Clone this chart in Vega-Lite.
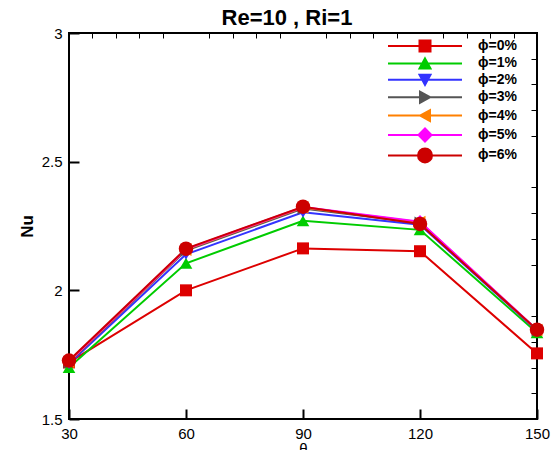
{
  "$schema": "https://vega.github.io/schema/vega-lite/v6.json",
  "width": 468,
  "height": 386,
  "autosize": {"type": "none"},
  "padding": {"left": 69, "top": 33, "right": 19, "bottom": 31},
  "background": "white",
  "title": {"text": "Re=10 , Ri=1", "font": "Liberation Sans", "fontSize": 22, "fontWeight": "bold", "color": "black", "offset": 4, "dy": 8, "dx": -16},
  "config": {
    "view": {"stroke": "black", "strokeWidth": 2},
    "axis": {"grid": false, "domain": false, "labelFont": "Liberation Sans", "labelFontSize": 15, "labelColor": "black", "tickColor": "black", "titleColor": "black", "titleFont": "Liberation Sans"}
  },
  "data": {"values": [
    {"s": "ϕ=0%", "t": 30, "nu": 1.72}, {"s": "ϕ=0%", "t": 60, "nu": 2.0}, {"s": "ϕ=0%", "t": 90, "nu": 2.163}, {"s": "ϕ=0%", "t": 120, "nu": 2.152}, {"s": "ϕ=0%", "t": 150, "nu": 1.755},
    {"s": "ϕ=1%", "t": 30, "nu": 1.70}, {"s": "ϕ=1%", "t": 60, "nu": 2.105}, {"s": "ϕ=1%", "t": 90, "nu": 2.27}, {"s": "ϕ=1%", "t": 120, "nu": 2.235}, {"s": "ϕ=1%", "t": 150, "nu": 1.835},
    {"s": "ϕ=2%", "t": 30, "nu": 1.715}, {"s": "ϕ=2%", "t": 60, "nu": 2.14}, {"s": "ϕ=2%", "t": 90, "nu": 2.303}, {"s": "ϕ=2%", "t": 120, "nu": 2.255}, {"s": "ϕ=2%", "t": 150, "nu": 1.843},
    {"s": "ϕ=3%", "t": 30, "nu": 1.72}, {"s": "ϕ=3%", "t": 60, "nu": 2.155}, {"s": "ϕ=3%", "t": 90, "nu": 2.318}, {"s": "ϕ=3%", "t": 120, "nu": 2.262}, {"s": "ϕ=3%", "t": 150, "nu": 1.845},
    {"s": "ϕ=4%", "t": 30, "nu": 1.722}, {"s": "ϕ=4%", "t": 60, "nu": 2.158}, {"s": "ϕ=4%", "t": 90, "nu": 2.322}, {"s": "ϕ=4%", "t": 120, "nu": 2.265}, {"s": "ϕ=4%", "t": 150, "nu": 1.846},
    {"s": "ϕ=5%", "t": 30, "nu": 1.724}, {"s": "ϕ=5%", "t": 60, "nu": 2.16}, {"s": "ϕ=5%", "t": 90, "nu": 2.324}, {"s": "ϕ=5%", "t": 120, "nu": 2.267}, {"s": "ϕ=5%", "t": 150, "nu": 1.847},
    {"s": "ϕ=6%", "t": 30, "nu": 1.727}, {"s": "ϕ=6%", "t": 60, "nu": 2.162}, {"s": "ϕ=6%", "t": 90, "nu": 2.325}, {"s": "ϕ=6%", "t": 120, "nu": 2.258}, {"s": "ϕ=6%", "t": 150, "nu": 1.847}
  ]},
  "encoding": {
    "x": {"field": "t", "type": "quantitative", "scale": {"domain": [30, 150], "nice": false, "zero": false}, "axis": null},
    "y": {"field": "nu", "type": "quantitative", "scale": {"domain": [1.5, 3], "nice": false, "zero": false}, "axis": null},
    "color": {
      "field": "s", "type": "nominal",
      "scale": {"domain": ["ϕ=0%", "ϕ=1%", "ϕ=2%", "ϕ=3%", "ϕ=4%", "ϕ=5%", "ϕ=6%"], "range": ["#dd0000", "#00cc00", "#3333ff", "#555555", "#ff8000", "#ff00ff", "#cc0000"]},
      "legend": null
    }
  },
  "layer": [
    {
      "mark": {"type": "line", "strokeWidth": 2},
      "encoding": {
        "x": {"field": "t", "type": "quantitative",
          "axis": {"values": [30, 60, 90, 120, 150], "tickSize": -10, "tickWidth": 2, "labelPadding": 17, "labelFlush": false, "labelOverlap": false, "title": "θ", "titleFontSize": 15, "titleFontWeight": "normal", "titlePadding": 0}},
        "y": {"field": "nu", "type": "quantitative",
          "axis": {"values": [1.5, 2, 2.5, 3], "format": "~g", "tickSize": -10, "tickWidth": 2, "labelPadding": 17, "labelFlush": false, "labelOverlap": false, "title": "Nu", "titleFontSize": 17, "titleFontWeight": "bold", "titlePadding": 5}},
        "color": {
          "field": "s", "type": "nominal",
          "legend": {
            "orient": "none", "legendX": 312, "legendY": 6, "title": null, "padding": 0,
            "symbolSize": 4, "labelOffset": 83, "rowPadding": -1.6,
            "labelFont": "Liberation Sans", "labelFontSize": 14, "labelFontWeight": "bold", "labelColor": "black",
            "encode": {"symbols": {"update": {
              "shape": {"signal": "datum.value === 'ϕ=0%' ? 'M0,0H74M31.5,-5.5H42.5V5.5H31.5Z' : datum.value === 'ϕ=1%' ? 'M0,0H74M37,-5L42.5,5H31.5Z' : datum.value === 'ϕ=2%' ? 'M0,0H74M31.5,-5H42.5L37,5Z' : datum.value === 'ϕ=3%' ? 'M0,0H74M42,0L32,-5.5V5.5Z' : datum.value === 'ϕ=4%' ? 'M0,0H74M32,0L42,-5.5V5.5Z' : datum.value === 'ϕ=5%' ? 'M0,0H74M30.5,0L37,-6.5L43.5,0L37,6.5Z' : 'M0,0H74M30,0A7,7 0 1,1 44,0A7,7 0 1,1 30,0Z'"},
              "fill": {"signal": "scale('color', datum.value)"},
              "stroke": {"signal": "scale('color', datum.value)"},
              "strokeWidth": {"value": 2},
              "size": {"value": 4},
              "opacity": {"value": 1},
              "fillOpacity": {"value": 1},
              "strokeOpacity": {"value": 1}
            }}}
          }
        }
      }
    },
    {
      "transform": [{"filter": "datum.s === 'ϕ=0%'"}],
      "mark": {"type": "point", "filled": true, "opacity": 1, "shape": "square", "size": 144},
      "encoding": {
        "x": {"field": "t", "type": "quantitative",
          "axis": {"values": [36, 42, 48, 54, 66, 72, 78, 84, 96, 102, 108, 114, 126, 132, 138, 144], "tickSize": -5, "tickWidth": 1, "labels": false, "title": null}},
        "y": {"field": "nu", "type": "quantitative",
          "axis": {"values": [1.6, 1.7, 1.8, 1.9, 2.1, 2.2, 2.3, 2.4, 2.6, 2.7, 2.8, 2.9], "tickSize": -6, "tickWidth": 1, "labels": false, "title": null}}
      }
    },
    {"transform": [{"filter": "datum.s === 'ϕ=1%'"}], "mark": {"type": "point", "filled": true, "opacity": 1, "shape": "triangle-up", "size": 160}},
    {"transform": [{"filter": "datum.s === 'ϕ=2%'"}], "mark": {"type": "point", "filled": true, "opacity": 1, "shape": "triangle-down", "size": 160}},
    {"transform": [{"filter": "datum.s === 'ϕ=3%'"}], "mark": {"type": "point", "filled": true, "opacity": 1, "shape": "triangle-right", "size": 160}},
    {"transform": [{"filter": "datum.s === 'ϕ=4%'"}], "mark": {"type": "point", "filled": true, "opacity": 1, "shape": "triangle-left", "size": 160}},
    {"transform": [{"filter": "datum.s === 'ϕ=5%'"}], "mark": {"type": "point", "filled": true, "opacity": 1, "shape": "diamond", "size": 180}},
    {"transform": [{"filter": "datum.s === 'ϕ=6%'"}], "mark": {"type": "point", "filled": true, "opacity": 1, "shape": "circle", "size": 210}}
  ],
  "resolve": {"axis": {"x": "independent", "y": "independent"}}
}
